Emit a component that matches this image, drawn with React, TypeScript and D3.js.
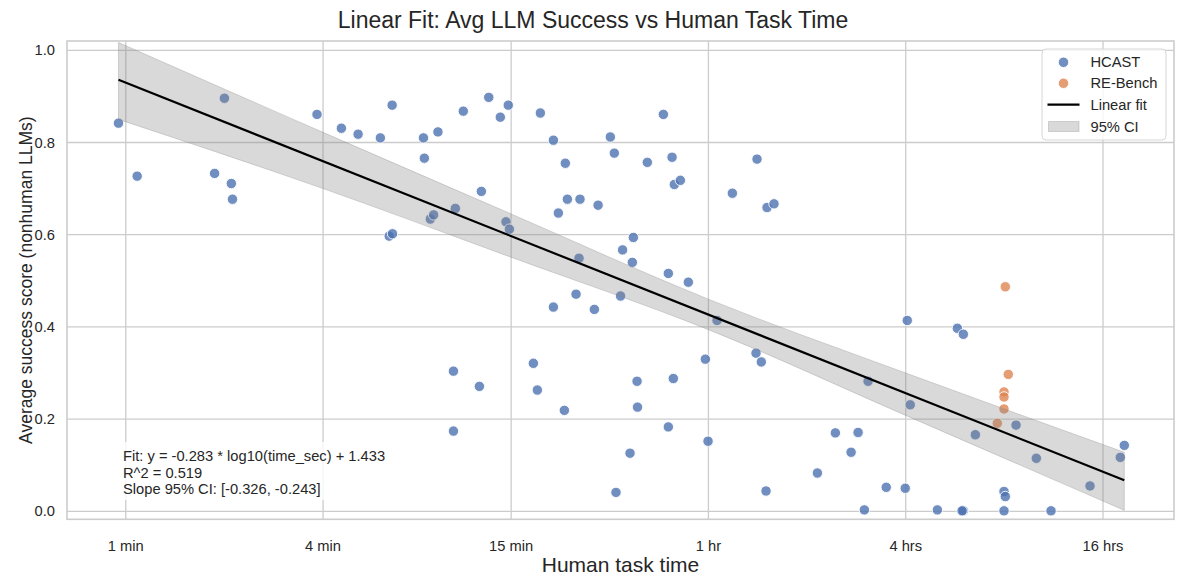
import React from "react";
import * as d3 from "d3";

const W = 1184;
const H = 583;
const plotLeft = 67;
const plotRight = 1174;
const plotTop = 41;
const plotBottom = 519.3;

// HCAST tasks: human time (seconds) and average LLM success
const hcastTime = [
  57, 65, 112, 120, 126, 127, 230, 273, 307, 359, 390, 382, 391, 486, 489, 538, 510, 522, 608, 600,
  600, 643, 720, 730, 769, 834, 868, 882, 889, 1052, 1082, 1105, 1211, 1211, 1254, 1308, 1317, 1336,
  1420, 1450, 1460, 1615, 1658, 1807, 1858, 1880, 1941, 1969, 2075, 2109, 2124, 2180, 2187, 2343,
  2623, 2716, 2716, 2788, 2813, 2833, 2955, 3126, 3523, 3590, 3824, 4259, 5029, 5065, 5220, 5396,
  5434, 5707, 7741, 8784, 9810, 10303, 10769, 11052, 12558, 14352, 14556, 14862, 17988, 20700,
  21588, 21588, 21400, 23490, 28728, 28992, 28728, 31260, 36054, 39978, 52572, 65040, 66900,
];
const hcastScore = [
  0.842, 0.727, 0.733, 0.896, 0.711, 0.677, 0.861, 0.831, 0.818, 0.81, 0.881, 0.597, 0.602, 0.81,
  0.766, 0.823, 0.634, 0.643, 0.657, 0.304, 0.174, 0.868, 0.271, 0.694, 0.898, 0.855, 0.628, 0.881,
  0.612, 0.321, 0.263, 0.864, 0.805, 0.443, 0.647, 0.219, 0.755, 0.677, 0.471, 0.549, 0.677, 0.438,
  0.664, 0.812, 0.777, 0.041, 0.467, 0.567, 0.126, 0.54, 0.594, 0.282, 0.226, 0.757, 0.861, 0.516,
  0.183, 0.768, 0.288, 0.709, 0.718, 0.497, 0.33, 0.152, 0.414, 0.69, 0.343, 0.764, 0.324, 0.044,
  0.659, 0.667, 0.083, 0.17, 0.128, 0.171, 0.003, 0.282, 0.052, 0.05, 0.414, 0.231, 0.003, 0.397,
  0.384, 0.001, 0.001, 0.166, 0.043, 0.032, 0.001, 0.187, 0.115, 0.001, 0.055, 0.117, 0.143,
];

// RE-Bench tasks
const reTime = [28992, 29604, 28728, 28728, 28728, 27408];
const reScore = [0.487, 0.297, 0.259, 0.248, 0.222, 0.191];

const tickSeconds = [60, 240, 900, 3600, 14400, 57600];
const tickLabels = ["1 min", "4 min", "15 min", "1 hr", "4 hrs", "16 hrs"];
const yTicks = [0, 0.2, 0.4, 0.6, 0.8, 1.0];

const fitSlope = -0.283;
const fitIntercept = 1.433;

// 95% CI band
const bandTime = [57, 240, 900, 3600, 14400, 66900];
const bandLow = [0.85, 0.7, 0.551, 0.394, 0.208, 0.002];
const bandHigh = [1.017, 0.822, 0.645, 0.46, 0.3, 0.128];

const noteLines = [
  "Fit: y = -0.283 * log10(time_sec) + 1.433",
  "R^2 = 0.519",
  "Slope 95% CI: [-0.326, -0.243]",
];

const blue = "#4c72b0";
const orange = "#dd8452";
const gridColor = "#cccccc";
const textColor = "#262626";
const font = "'Liberation Sans', Arial, sans-serif";

export default function App() {
  const x = d3.scaleLog().domain([39.7, 94860]).range([plotLeft, plotRight]);
  const y = d3.scaleLinear().domain([-0.0174, 1.0202]).range([plotBottom, plotTop]);

  const allTime = hcastTime.concat(reTime);
  const [tMin, tMax] = d3.extent(allTime) as [number, number];
  const fitLine = d3
    .line<number>()
    .x((t) => x(t))
    .y((t) => y(fitSlope * Math.log10(t) + fitIntercept))([tMin, tMax]);

  const band = d3
    .area<number>()
    .x((_, i) => x(bandTime[i]))
    .y0((_, i) => y(bandLow[i]))
    .y1((_, i) => y(bandHigh[i]))
    .curve(d3.curveMonotoneX)(bandTime);

  const legendX = 1042;
  const legendY = 49;
  const rows = [62.3, 83.3, 104.7, 126.5];

  return (
    <svg
      width={W}
      height={H}
      style={{ position: "absolute", left: 0, top: 0, background: "#fff" }}
      fontFamily={font}
    >
      <rect x={0} y={0} width={W} height={H} fill="#fff" />

      {/* grid */}
      {tickSeconds.map((t) => (
        <line key={"gx" + t} x1={x(t)} x2={x(t)} y1={plotTop} y2={plotBottom} stroke={gridColor} strokeWidth={1.3} />
      ))}
      {yTicks.map((v) => (
        <line key={"gy" + v} x1={plotLeft} x2={plotRight} y1={y(v)} y2={y(v)} stroke={gridColor} strokeWidth={1.3} />
      ))}

      {/* points */}
      {hcastTime.map((t, i) => (
        <circle key={"h" + i} cx={x(t)} cy={y(hcastScore[i])} r={5.2} fill={blue} fillOpacity={0.8} stroke="#fff" strokeWidth={0.9} />
      ))}
      {reTime.map((t, i) => (
        <circle key={"r" + i} cx={x(t)} cy={y(reScore[i])} r={5.2} fill={orange} fillOpacity={0.8} stroke="#fff" strokeWidth={0.9} />
      ))}

      {/* CI band and fit */}
      <path d={band || ""} fill="#808080" fillOpacity={0.3} stroke="#808080" strokeOpacity={0.3} strokeWidth={1} />
      <path d={fitLine || ""} fill="none" stroke="#000" strokeWidth={2.2} />

      {/* annotation */}
      <rect x={119} y={442} width={213} height={58} fill="#fff" fillOpacity={0.8} />
      {noteLines.map((s, i) => (
        <text key={s} x={123} y={461 + i * 16.5} fontSize={14.7} fill={textColor}>
          {s}
        </text>
      ))}

      {/* frame */}
      <rect
        x={plotLeft}
        y={plotTop}
        width={plotRight - plotLeft}
        height={plotBottom - plotTop}
        fill="none"
        stroke={gridColor}
        strokeWidth={1.6}
      />

      {/* tick labels */}
      {tickSeconds.map((t, i) => (
        <text key={"xt" + t} x={x(t)} y={551} textAnchor="middle" fontSize={14.7} fill={textColor}>
          {tickLabels[i]}
        </text>
      ))}
      {yTicks.map((v) => (
        <text key={"yt" + v} x={55} y={y(v)} dy="0.35em" textAnchor="end" fontSize={14.7} fill={textColor}>
          {d3.format(".1f")(v)}
        </text>
      ))}

      {/* axis labels and title */}
      <text x={(plotLeft + plotRight) / 2} y={572} textAnchor="middle" fontSize={21} fill={textColor}>
        Human task time
      </text>
      <text
        transform={`translate(32,${(plotTop + plotBottom) / 2}) rotate(-90)`}
        textAnchor="middle"
        fontSize={17.5}
        fill={textColor}
      >
        Average success score (nonhuman LLMs)
      </text>
      <text x={593} y={28} textAnchor="middle" fontSize={23} fill={textColor}>
        Linear Fit: Avg LLM Success vs Human Task Time
      </text>

      {/* legend */}
      <rect x={legendX} y={legendY} width={124} height={91} rx={4} fill="#fff" fillOpacity={0.8} stroke="#d6d6d6" strokeWidth={1} />
      <circle cx={1063.5} cy={rows[0]} r={5.2} fill={blue} fillOpacity={0.8} stroke="#fff" strokeWidth={0.9} />
      <circle cx={1063.5} cy={rows[1]} r={5.2} fill={orange} fillOpacity={0.8} stroke="#fff" strokeWidth={0.9} />
      <line x1={1047.5} x2={1079.5} y1={rows[2]} y2={rows[2]} stroke="#000" strokeWidth={2.2} />
      <rect x={1048.5} y={rows[3] - 5} width={30.5} height={10} fill="#808080" fillOpacity={0.3} stroke="#808080" strokeOpacity={0.3} />
      {["HCAST", "RE-Bench", "Linear fit", "95% CI"].map((s, i) => (
        <text key={s} x={1090.5} y={rows[i]} dy="0.35em" fontSize={14.7} fill={textColor}>
          {s}
        </text>
      ))}
    </svg>
  );
}
